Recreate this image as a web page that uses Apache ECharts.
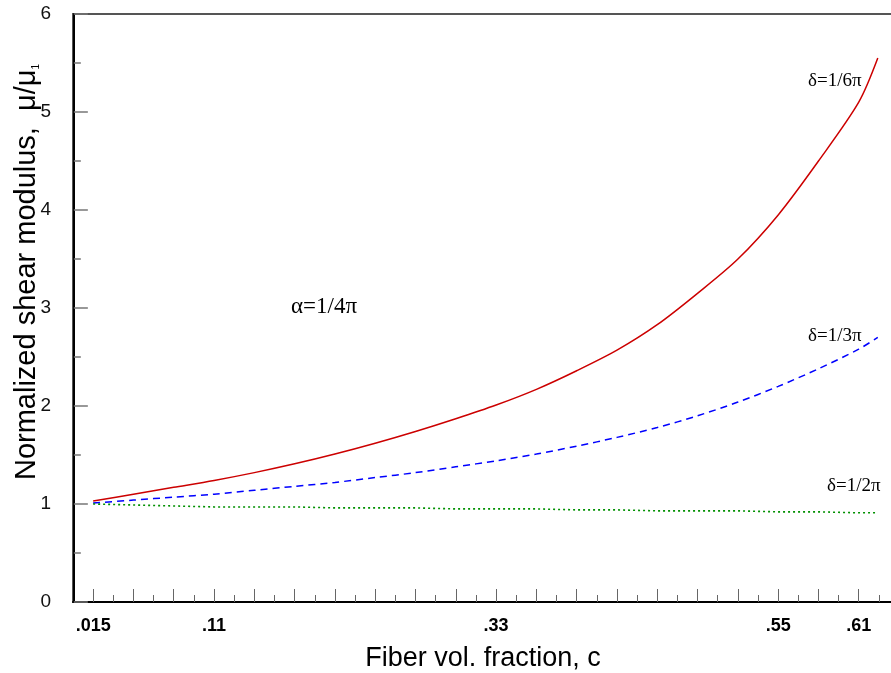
<!DOCTYPE html>
<html>
<head>
<meta charset="utf-8">
<script src="https://cdn.jsdelivr.net/npm/echarts@6/dist/echarts.min.js"></script>
<style>
  html, body { margin: 0; padding: 0; background: #fff; }
  #chart { width: 891px; height: 673px; }
</style>
</head>
<body>
<div id="chart"></div>
<script>
// Fiber volume fraction c at each sampled step
const fiberFraction = [0.015, 0.0463, 0.0776, 0.1090, 0.1403, 0.1716, 0.2029, 0.2342, 0.2655, 0.2968,
  0.3282, 0.3595, 0.3908, 0.4221, 0.4534, 0.4847, 0.5161, 0.5474, 0.5787, 0.6100, 0.6248];

// Normalized shear modulus mu/mu1 for alpha = pi/4
const deltaSixth = [1.03, 1.10, 1.17, 1.24, 1.32, 1.41, 1.51, 1.62, 1.74, 1.87,
  2.01, 2.17, 2.36, 2.57, 2.83, 3.15, 3.50, 3.95, 4.50, 5.10, 5.55];
const deltaThird = [1.01, 1.04, 1.07, 1.10, 1.14, 1.18, 1.22, 1.27, 1.32, 1.38,
  1.44, 1.51, 1.59, 1.68, 1.78, 1.90, 2.04, 2.20, 2.38, 2.58, 2.70];
const deltaHalf = [1.00, 0.99, 0.98, 0.97, 0.97, 0.97, 0.96, 0.96, 0.96, 0.95,
  0.95, 0.95, 0.94, 0.94, 0.93, 0.93, 0.93, 0.92, 0.92, 0.91, 0.91];

// x-axis tick layout: 19 equal steps from the first to the last labelled value
const firstTick = 0.015;
const lastTick = 0.61;
const stepCount = 19;
const tickLabels = ['.015', '.11', '.33', '.55', '.61'];
const tickLabelSteps = [0, 3, 10, 17, 19];

const step = (lastTick - firstTick) / stepCount;
const xMin = firstTick - step / 2;
const xMax = firstTick + 19.85 * step;

const majorTicks = [];
const minorTicks = [];
for (let k = 0; k <= stepCount; k++) {
  majorTicks.push(firstTick + k * step);
  minorTicks.push(firstTick + (k + 0.5) * step);
}
const labelValues = tickLabelSteps.map(k => firstTick + k * step);

const toPairs = ys => fiberFraction.map((x, i) => [x, ys[i]]);

const sans = 'Liberation Sans, Arial, sans-serif';
const serif = 'Liberation Serif, Times New Roman, serif';

const chart = echarts.init(document.getElementById('chart'), null, { renderer: 'canvas' });
chart.setOption({
  animation: false,
  backgroundColor: '#fff',
  grid: {
    left: 73, right: -2, top: 14, bottom: 71,
    outerBoundsMode: 'none', containLabel: false,
    show: true, borderColor: '#555', borderWidth: 2, backgroundColor: 'transparent'
  },
  xAxis: [
    {
      type: 'value', min: xMin, max: xMax, position: 'bottom',
      axisLine: { show: true, lineStyle: { color: '#000', width: 2 } },
      axisTick: { show: true, inside: true, length: 13, customValues: majorTicks, lineStyle: { color: '#666', width: 1 } },
      axisLabel: {
        show: true, customValues: labelValues, margin: 15,
        fontFamily: sans, fontSize: 18, fontWeight: 'bold', color: '#000',
        formatter: v => {
          const i = labelValues.findIndex(t => Math.abs(t - v) < 1e-6);
          return i >= 0 ? tickLabels[i] : '';
        }
      },
      splitLine: { show: false },
      name: 'Fiber vol. fraction, c', nameLocation: 'middle', nameGap: 43,
      nameTextStyle: { fontFamily: sans, fontSize: 27, color: '#000' }
    },
    {
      type: 'value', min: xMin, max: xMax, position: 'bottom',
      axisLine: { show: false },
      axisTick: { show: true, inside: true, length: 7, customValues: minorTicks, lineStyle: { color: '#666', width: 1 } },
      axisLabel: { show: false },
      splitLine: { show: false }
    }
  ],
  yAxis: {
    type: 'value', min: 0, max: 6, interval: 1,
    axisLine: { show: true, lineStyle: { color: '#000', width: 2 } },
    axisTick: { show: true, inside: true, length: 14, lineStyle: { color: '#777', width: 1.5 } },
    minorTick: { show: true, splitNumber: 2, length: 7, lineStyle: { color: '#777', width: 1.5 } },
    axisLabel: { margin: 22, fontFamily: sans, fontSize: 19, color: '#111', padding: [8, 0, 0, 0] },
    splitLine: { show: false }
  },
  graphic: [
    {
      type: 'text', x: 27, y: 272, rotation: Math.PI / 2,
      style: {
        text: '{a|Normalized shear modulus,  μ/μ}{s|1}',
        align: 'center', verticalAlign: 'middle',
        rich: {
          a: { fontFamily: sans, fontSize: 29, fill: '#000' },
          s: { fontFamily: sans, fontSize: 10, fill: '#000', verticalAlign: 'bottom', padding: [10, 0, 0, 0] }
        }
      }
    },
    { type: 'text', x: 808, y: 81, style: { text: 'δ=1/6π', font: '19px ' + serif, fill: '#000', verticalAlign: 'middle' } },
    { type: 'text', x: 808, y: 336, style: { text: 'δ=1/3π', font: '19px ' + serif, fill: '#000', verticalAlign: 'middle' } },
    { type: 'text', x: 827, y: 486, style: { text: 'δ=1/2π', font: '19px ' + serif, fill: '#000', verticalAlign: 'middle' } },
    { type: 'text', x: 291, y: 307, style: { text: 'α=1/4π', font: '23px ' + serif, fill: '#000', verticalAlign: 'middle' } }
  ],
  series: [
    {
      name: 'δ=1/6π', type: 'line', xAxisIndex: 0, data: toPairs(deltaSixth),
      symbol: 'none', smooth: 0.3,
      lineStyle: { color: '#cc0000', width: 1.5 }
    },
    {
      name: 'δ=1/3π', type: 'line', xAxisIndex: 0, data: toPairs(deltaThird),
      symbol: 'none', smooth: 0.3,
      lineStyle: { color: '#0000ff', width: 1.5, type: [7, 5] }
    },
    {
      name: 'δ=1/2π', type: 'line', xAxisIndex: 0, data: toPairs(deltaHalf),
      symbol: 'none', smooth: false,
      lineStyle: { color: '#009000', width: 1.6, type: [2, 3] }
    }
  ]
});
</script>
</body>
</html>
